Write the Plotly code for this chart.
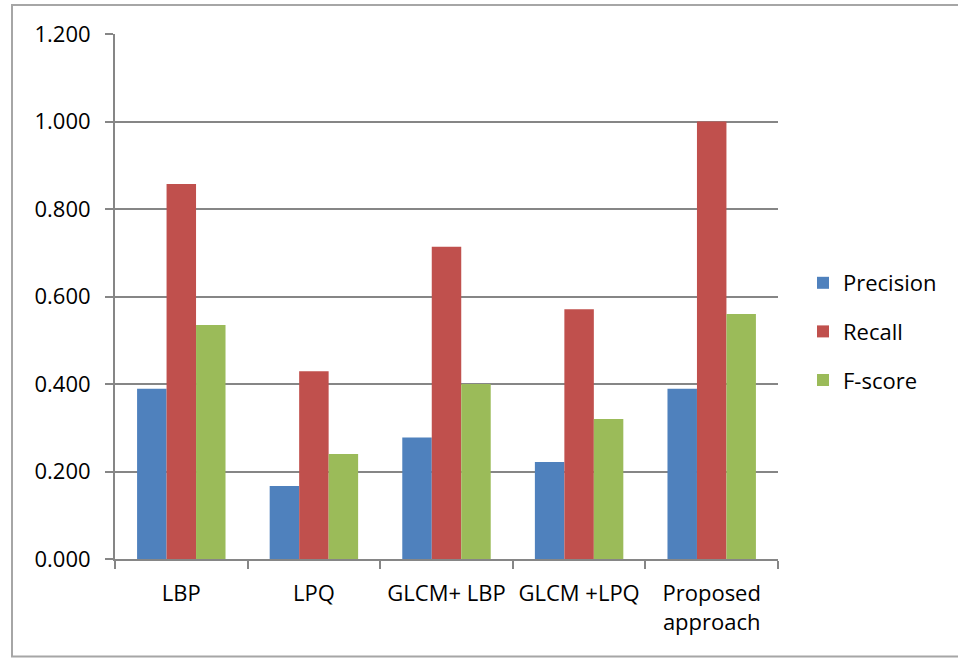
import plotly.graph_objects as go

categories = ["LBP", "LPQ", "GLCM+ LBP", "GLCM +LPQ", "Proposed<br>approach"]
precision = [0.389, 0.167, 0.278, 0.222, 0.389]
recall = [0.857, 0.429, 0.714, 0.571, 1.000]
f_score = [0.535, 0.240, 0.400, 0.320, 0.560]
y_ticks = [0.0, 0.2, 0.4, 0.6, 0.8, 1.0, 1.2]
y_tick_text = ["0.000", "0.200", "0.400", "0.600", "0.800", "1.000", "1.200"]

series = [
    ("Precision", precision, "#4F81BD"),
    ("Recall", recall, "#C0504D"),
    ("F-score", f_score, "#9BBB59"),
]

FONT = "Open Sans, Noto Sans, sans-serif"
FS = 22
W, H = 958, 658
L, R, T, B = 115, 180, 34, 99

fig = go.Figure()
for name, vals, color in series:
    fig.add_trace(go.Bar(
        x=categories, y=vals, name=name, legendgroup=name,
        marker=dict(color=color, line=dict(width=0)),
    ))

pw = W - L - R
ph = H - T - B


def px_x(x):
    return (x - L) / pw


def px_y(y):
    return (H - B - y) / ph


fig.update_layout(
    width=W, height=H,
    margin=dict(l=L, r=R, t=T, b=B, autoexpand=False),
    paper_bgcolor="white", plot_bgcolor="white",
    barmode="group", bargap=0.333, bargroupgap=0,
    font=dict(family=FONT, size=FS, color="#000000"),
    showlegend=True,
    legend=dict(
        x=px_x(803), y=px_y(262), xanchor="left", yanchor="top",
        font=dict(family=FONT, size=FS, color="#000000"),
        tracegroupgap=17, itemwidth=30,
        bgcolor="rgba(0,0,0,0)",
    ),
    xaxis=dict(
        showline=True, linecolor="#868686", linewidth=2,
        ticks="outside", tickson="boundaries", ticklen=8,
        tickcolor="#868686", tickwidth=2,
        showgrid=False, zeroline=False,
        tickangle=0, automargin=False,
        tickfont=dict(family=FONT, size=FS, color="#000000"),
        ticklabelstandoff=14,
    ),
    yaxis=dict(
        range=[0, 1.2], tickvals=y_ticks, ticktext=y_tick_text,
        showline=True, linecolor="#868686", linewidth=2,
        ticks="outside", ticklen=8, tickcolor="#868686", tickwidth=2,
        showgrid=True, gridcolor="#868686", gridwidth=2,
        zeroline=False, automargin=False,
        tickfont=dict(family=FONT, size=FS, color="#000000"),
        ticklabelstandoff=10,
    ),
    shapes=[
        dict(
            type="rect", xref="paper", yref="paper",
            x0=px_x(12), x1=px_x(962), y0=px_y(656.5), y1=px_y(5),
            line=dict(color="#A6A6A6", width=2), fillcolor="rgba(0,0,0,0)",
            layer="below",
        )
    ],
)

fig.write_html("out.html")
